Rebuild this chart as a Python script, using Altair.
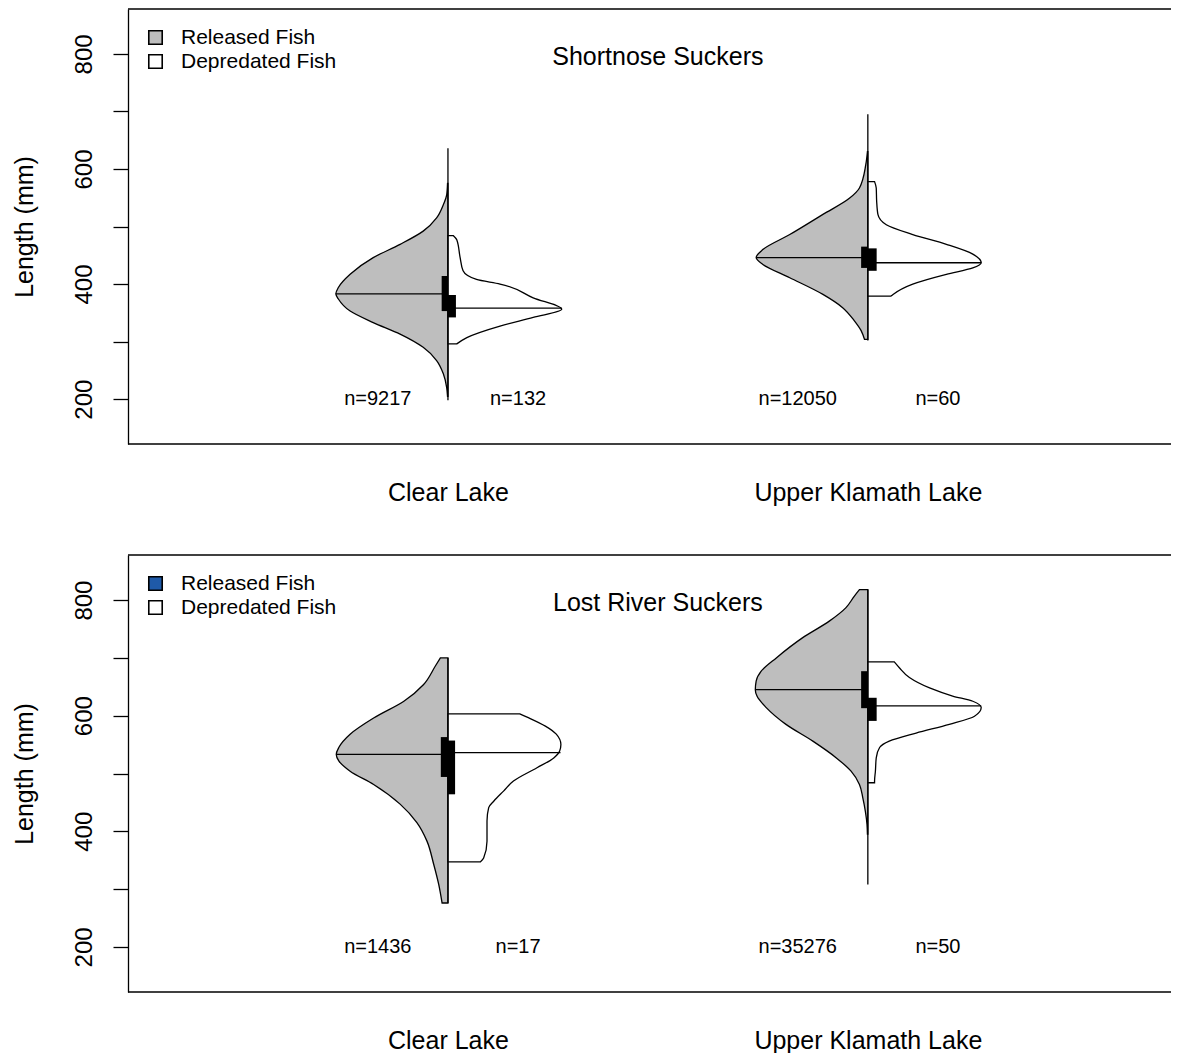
import altair as alt
import pandas as pd

FONT = "Liberation Sans"
GRAY = "#bebebe"

lakes = ["Clear Lake", "Upper Klamath Lake"]
lake_pos = [1, 2]
fish_types = ["Released Fish", "Depredated Fish"]
tick_values = [200, 300, 400, 500, 600, 700, 800]

# ---------------- Shortnose Suckers ----------------
sns_title = "Shortnose Suckers"
sns_legend_colors = [GRAY, "white"]
# Clear Lake, released (left half): length (mm) and half-width (x units)
sns_cl_rel_len = [575, 555, 538, 515, 492, 469, 446, 417, 394, 383, 374, 353, 333, 313, 290, 267, 244, 220, 205]
sns_cl_rel_w = [0.001, 0.003, 0.011, 0.027, 0.059, 0.114, 0.178, 0.233, 0.261, 0.267, 0.261, 0.233, 0.178, 0.114, 0.059, 0.027, 0.011, 0.003, 0.001]
# Clear Lake, depredated (right half)
sns_cl_dep_len = [484, 477, 446, 423, 408, 400, 376, 356, 342, 327, 307, 296]
sns_cl_dep_w = [0.013, 0.021, 0.029, 0.036, 0.068, 0.124, 0.203, 0.271, 0.203, 0.124, 0.045, 0.021]
# Upper Klamath Lake, released
sns_uk_rel_len = [630, 607, 567, 549, 521, 486, 460, 446, 434, 411, 382, 359, 336, 319, 304]
sns_uk_rel_w = [0.001, 0.005, 0.020, 0.044, 0.107, 0.186, 0.250, 0.266, 0.250, 0.186, 0.107, 0.060, 0.032, 0.016, 0.008]
# Upper Klamath Lake, depredated
sns_uk_dep_len = [578, 567, 544, 521, 503, 486, 469, 452, 437, 428, 417, 400, 382, 379]
sns_uk_dep_w = [0.016, 0.020, 0.021, 0.024, 0.044, 0.107, 0.187, 0.250, 0.270, 0.250, 0.187, 0.107, 0.060, 0.055]
# medians: [CL rel, CL dep, UK rel, UK dep]
sns_med_len = [383, 358, 446, 437]
sns_med_w = [0.267, 0.271, 0.266, 0.270]
# quartile boxes
sns_box_lo = [353, 342, 428, 423]
sns_box_hi = [414, 381, 465, 462]
sns_box_w = [0.015, 0.019, 0.016, 0.021]
# full range lines
sns_range_lo = [198, 302]
sns_range_hi = [636, 695]
sns_n_text = ["n=9217", "n=132", "n=12050", "n=60"]
sns_n_x = [0.833, 1.167, 1.833, 2.167]

# ---------------- Lost River Suckers ----------------
lrs_title = "Lost River Suckers"
lrs_legend_colors = ["#1f5aa8", "white"]
lrs_cl_rel_len = [700, 686, 654, 625, 596, 568, 545, 533, 522, 504, 481, 447, 415, 383, 343, 308, 276]
lrs_cl_rel_w = [0.018, 0.030, 0.058, 0.105, 0.177, 0.233, 0.260, 0.266, 0.260, 0.233, 0.177, 0.114, 0.074, 0.050, 0.034, 0.022, 0.014]
lrs_cl_dep_len = [603, 595, 582, 568, 550, 539, 527, 510, 487, 470, 452, 441, 418, 383, 354, 347]
lrs_cl_dep_w = [0.171, 0.196, 0.232, 0.258, 0.269, 0.266, 0.252, 0.212, 0.156, 0.133, 0.109, 0.097, 0.093, 0.093, 0.085, 0.077]
lrs_uk_rel_len = [818, 807, 787, 764, 735, 700, 677, 660, 645, 634, 614, 585, 556, 527, 504, 481, 458, 435, 412, 395]
lrs_uk_rel_w = [0.020, 0.032, 0.052, 0.091, 0.155, 0.218, 0.254, 0.266, 0.268, 0.264, 0.242, 0.195, 0.131, 0.075, 0.040, 0.020, 0.012, 0.006, 0.002, 0.001]
lrs_uk_dep_len = [693, 683, 666, 648, 634, 625, 614, 599, 585, 570, 556, 545, 527, 504, 487, 484]
lrs_uk_dep_w = [0.063, 0.075, 0.099, 0.147, 0.202, 0.250, 0.270, 0.254, 0.194, 0.115, 0.051, 0.028, 0.020, 0.018, 0.016, 0.016]
lrs_med_len = [533, 536, 645, 617]
lrs_med_w = [0.266, 0.268, 0.268, 0.270]
lrs_box_lo = [494, 464, 613, 591]
lrs_box_hi = [563, 557, 677, 631]
lrs_box_w = [0.017, 0.017, 0.016, 0.021]
lrs_range_lo = [276, 308]
lrs_range_hi = [700, 818]
lrs_n_text = ["n=1436", "n=17", "n=35276", "n=50"]
lrs_n_x = [0.833, 1.167, 1.833, 2.167]

W = 1043
XSCALE = alt.Scale(domain=[0.238, 2.722], nice=False, zero=False)
YSCALE = alt.Scale(domain=[122, 878], nice=False, zero=False)

label_expr = " : ".join(
    [f"datum.value == {p} ? '{n}'" for p, n in zip(lake_pos, lakes)] + ["''"]
)
XAXIS = alt.Axis(values=lake_pos, labelExpr=label_expr, ticks=False, domain=False,
                 grid=False, title=None, labelFontSize=25, labelPadding=36,
                 labelBaseline="top", labelColor="black", labelFont=FONT,
                 labelLimit=500)
YAXIS = alt.Axis(values=tick_values, labelExpr="datum.value % 200 == 0 ? datum.label : ''",
                 labelAngle=270, labelAlign="center", labelBaseline="bottom",
                 tickSize=15, tickColor="black", tickWidth=1.3, domainColor="black",
                 domainWidth=1.3, grid=False, labelFontSize=24, labelPadding=17,
                 title="Length (mm)", titleFontSize=25, titleFontWeight="normal",
                 titlePadding=35, labelColor="black", titleColor="black",
                 labelFont=FONT, titleFont=FONT)


def X(field):
    return alt.X(field, type="quantitative", scale=XSCALE, axis=XAXIS, stack=None)


def Y(field):
    return alt.Y(field, type="quantitative", scale=YSCALE, axis=YAXIS)


def panel(title, shapes, med_len, med_w, box_lo, box_hi, box_w,
          range_lo, range_hi, n_text, n_x, legend_colors, H):
    rows = []
    for gid, (pos, side, lens, ws) in enumerate(shapes):
        for L, w in zip(lens, ws):
            lo, hi = (pos - w, pos) if side == fish_types[0] else (pos, pos + w)
            rows.append({"group": gid, "side": side, "length": L, "lo": lo, "hi": hi})
    area_df = pd.DataFrame(rows)

    sides = [fish_types[0], fish_types[1], fish_types[0], fish_types[1]]
    centers = [lake_pos[0], lake_pos[0], lake_pos[1], lake_pos[1]]
    med_df = pd.DataFrame({
        "length": med_len,
        "lo": [c - w if s == fish_types[0] else c for c, s, w in zip(centers, sides, med_w)],
        "hi": [c if s == fish_types[0] else c + w for c, s, w in zip(centers, sides, med_w)],
    })
    box_df = pd.DataFrame({
        "ylo": box_lo, "yhi": box_hi,
        "lo": [c - w if s == fish_types[0] else c for c, s, w in zip(centers, sides, box_w)],
        "hi": [c if s == fish_types[0] else c + w for c, s, w in zip(centers, sides, box_w)],
    })
    range_df = pd.DataFrame({"pos": lake_pos, "ylo": range_lo, "yhi": range_hi})
    n_df = pd.DataFrame({"x": n_x, "y": [200] * len(n_x), "text": n_text})
    title_df = pd.DataFrame({"x": [1.5], "y": [795], "text": [title]})
    legend_df = pd.DataFrame({"type": fish_types, "x": [1.5, 1.5], "y": [0, 0]})
    frame_df = pd.DataFrame({"a": [0]})

    gray = alt.Chart(area_df).transform_filter(
        alt.datum.side == fish_types[0]
    ).mark_area(orient="horizontal", interpolate="monotone", fill=GRAY, stroke="black",
                strokeWidth=1.3).encode(
        y=Y("length"), x=X("lo"), x2="hi", detail="group:N"
    )
    white = alt.Chart(area_df).transform_filter(
        alt.datum.side == fish_types[1]
    ).mark_area(orient="horizontal", interpolate="monotone", fill="white", stroke="black",
                strokeWidth=1.3).encode(
        y=Y("length"), x=X("lo"), x2="hi", detail="group:N"
    )
    meds = alt.Chart(med_df).mark_rule(color="black", strokeWidth=1.3).encode(
        y=Y("length"), x=X("lo"), x2="hi"
    )
    ranges = alt.Chart(range_df).mark_rule(color="black", strokeWidth=1.3).encode(
        x=X("pos"), y=Y("ylo"), y2="yhi"
    )
    boxes = alt.Chart(box_df).mark_rect(color="black").encode(
        x=X("lo"), x2="hi", y=Y("ylo"), y2="yhi"
    )
    ntext = alt.Chart(n_df).mark_text(fontSize=20, font=FONT, color="black").encode(
        x=X("x"), y=Y("y"), text="text:N"
    )
    ttext = alt.Chart(title_df).mark_text(fontSize=25, font=FONT, color="black").encode(
        x=X("x"), y=Y("y"), text="text:N"
    )
    legend = alt.Chart(legend_df).mark_point(
        shape="square", filled=True, clip=True, stroke="black", strokeWidth=1.5
    ).encode(
        x=X("x"), y=Y("y"),
        fill=alt.Fill("type:N", scale=alt.Scale(domain=fish_types, range=legend_colors),
                      legend=alt.Legend(title=None, orient="none", legendX=17, legendY=18,
                                        symbolType="square", symbolSize=180,
                                        symbolStrokeColor="black", symbolStrokeWidth=1.6,
                                        symbolOpacity=1, labelFontSize=21, labelFont=FONT,
                                        labelColor="black", labelOffset=15, rowPadding=2,
                                        padding=0))
    )
    top = alt.Chart(frame_df).mark_rule(color="black", strokeWidth=1.3).encode(
        x=alt.value(0), x2=alt.value(W), y=alt.value(0)
    )
    bottom = alt.Chart(frame_df).mark_rule(color="black", strokeWidth=1.3).encode(
        x=alt.value(0), x2=alt.value(W), y=alt.value(H)
    )
    return alt.layer(gray, white, meds, ranges, boxes, ntext, ttext, legend, top, bottom).properties(
        width=W, height=H
    )


sns = panel(
    sns_title,
    [(lake_pos[0], fish_types[0], sns_cl_rel_len, sns_cl_rel_w),
     (lake_pos[0], fish_types[1], sns_cl_dep_len, sns_cl_dep_w),
     (lake_pos[1], fish_types[0], sns_uk_rel_len, sns_uk_rel_w),
     (lake_pos[1], fish_types[1], sns_uk_dep_len, sns_uk_dep_w)],
    sns_med_len, sns_med_w, sns_box_lo, sns_box_hi, sns_box_w,
    sns_range_lo, sns_range_hi, sns_n_text, sns_n_x, sns_legend_colors, 435,
)
lrs = panel(
    lrs_title,
    [(lake_pos[0], fish_types[0], lrs_cl_rel_len, lrs_cl_rel_w),
     (lake_pos[0], fish_types[1], lrs_cl_dep_len, lrs_cl_dep_w),
     (lake_pos[1], fish_types[0], lrs_uk_rel_len, lrs_uk_rel_w),
     (lake_pos[1], fish_types[1], lrs_uk_dep_len, lrs_uk_dep_w)],
    lrs_med_len, lrs_med_w, lrs_box_lo, lrs_box_hi, lrs_box_w,
    lrs_range_lo, lrs_range_hi, lrs_n_text, lrs_n_x, lrs_legend_colors, 437,
)

chart = alt.vconcat(sns, lrs, spacing=49).resolve_scale(fill="independent").resolve_legend(
    fill="independent"
).properties(padding={"left": 3, "top": 0, "right": 0, "bottom": 0}).configure_view(stroke=None)

chart.save("out.html", embed_options={"renderer": "svg", "actions": False})
